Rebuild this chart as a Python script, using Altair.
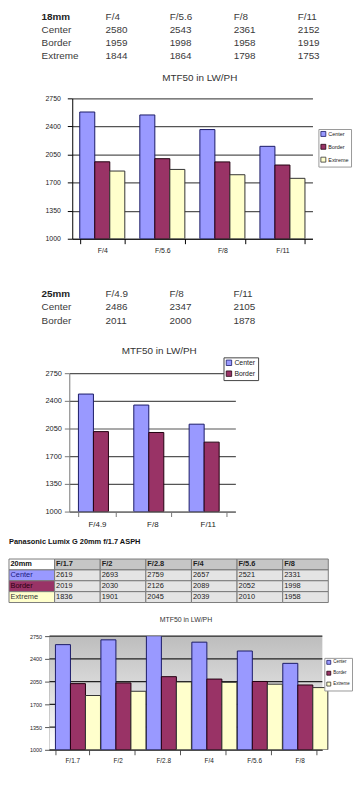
import altair as alt
import pandas as pd

FONT = "Arial"

# ---------------- data ----------------
series_names = ["Center", "Border", "Extreme"]
y_ticks = [1000, 1350, 1700, 2050, 2400, 2750]
chart_title = "MTF50 in LW/PH"

t1_label = "18mm"
t1_apertures = ["F/4", "F/5.6", "F/8", "F/11"]
t1_center = [2580, 2543, 2361, 2152]
t1_border = [1959, 1998, 1958, 1919]
t1_extreme = [1844, 1864, 1798, 1753]

t2_label = "25mm"
t2_apertures = ["F/4.9", "F/8", "F/11"]
t2_center = [2486, 2347, 2105]
t2_border = [2011, 2000, 1878]

t3_title = "Panasonic Lumix G 20mm f/1.7 ASPH"
t3_label = "20mm"
t3_apertures = ["F/1.7", "F/2", "F/2.8", "F/4", "F/5.6", "F/8"]
t3_center = [2619, 2693, 2759, 2657, 2521, 2331]
t3_border = [2019, 2030, 2126, 2089, 2052, 1998]
t3_extreme = [1836, 1901, 2045, 2039, 2010, 1958]

# ---------------- styles ----------------
FILL = {"Center": "#9999FF", "Border": "#993366", "Extreme": "#FFFFCC"}
EDGE = {"Center": "#1a1a66", "Border": "#220010", "Extreme": "#333333"}
W = 344  # width of every row of the layout


def long_df(aps, series):
    rows = []
    for name, vals in series:
        for a, v in zip(aps, vals):
            rows.append({"aperture": a, "series": name, "value": v})
    return pd.DataFrame(rows)


def table_df(label, aps, series):
    grid = [[label] + list(aps)] + [[n] + [str(v) for v in vals] for n, vals in series]
    recs = []
    for r, row in enumerate(grid):
        for c, txt in enumerate(row):
            recs.append({"r": r, "c": c, "text": txt, "bold": (r == 0 and c == 0)})
    return pd.DataFrame(recs), len(grid), len(grid[0])


def spacer(h):
    return alt.Chart(pd.DataFrame({"s": [0]})).mark_point(opacity=0, size=1).properties(width=W, height=h)


def text_table(label, aps, series, x0, x1, h):
    df, nr, nc = table_df(label, aps, series)
    base = alt.Chart(df).encode(
        x=alt.X("c:O", axis=None,
                scale=alt.Scale(type="point", padding=0, domain=list(range(nc)), range=[x0, x1])),
        y=alt.Y("r:O", axis=None, scale=alt.Scale(type="point", padding=0, domain=list(range(nr)))),
        text="text:N",
    )
    normal = base.transform_filter("!datum.bold").mark_text(
        align="left", baseline="middle", font=FONT, fontSize=10, color="#3a3a3a")
    bold = base.transform_filter("datum.bold").mark_text(
        align="left", baseline="middle", font=FONT, fontSize=10, fontWeight="bold", color="#222")
    return alt.layer(normal, bold).properties(width=W, height=h)


def bar_chart(df, aps, names, x0, x1, h, pi, po, yfs, ypad, xfs, xpad, tfs, tcenter, toff, tdy,
              lx, ly, lfs, lsym, lrow, lstroke, grid_color, domain_color, gradient=None):
    use_axis_grid = gradient is None
    yscale = alt.Scale(domain=[1000, 2750], nice=False, zero=False)
    yaxis = alt.Axis(title=None, values=y_ticks, format="d", tickSize=5, offset=-x0,
                     tickColor=domain_color, domainColor=domain_color,
                     labelFont=FONT, labelFontSize=yfs, labelColor="#222",
                     labelPadding=ypad, labelOverlap=False,
                     grid=use_axis_grid, gridColor=grid_color, gridWidth=1.2)
    bars = alt.Chart(df).mark_bar(clip=True, strokeWidth=1).encode(
        x=alt.X("aperture:N", sort=aps,
                scale=alt.Scale(paddingInner=pi, paddingOuter=po, range=[x0, x1]),
                axis=alt.Axis(title=None, labelAngle=0, tickBand="extent", tickSize=5,
                              tickColor=domain_color, domainColor=domain_color,
                              labelFont=FONT, labelFontSize=xfs, labelColor="#222",
                              labelPadding=xpad, grid=False)),
        xOffset=alt.XOffset("series:N", sort=names),
        y=alt.Y("value:Q", scale=yscale, axis=yaxis),
        y2=alt.datum(1000),
        color=alt.Color("series:N", sort=names,
                        scale=alt.Scale(domain=names, range=[FILL[n] for n in names]),
                        legend=alt.Legend(title=None, orient="none", legendX=lx, legendY=ly,
                                          direction="vertical", symbolType="square",
                                          symbolSize=lsym, symbolStrokeColor="#222",
                                          symbolStrokeWidth=0.8, symbolOpacity=1,
                                          labelFont=FONT, labelFontSize=lfs,
                                          labelColor="#222", labelOffset=2,
                                          rowPadding=lrow, padding=2,
                                          strokeColor=lstroke, fillColor="#ffffff",
                                          cornerRadius=0)),
        stroke=alt.Stroke("series:N", scale=alt.Scale(domain=names, range=[EDGE[n] for n in names]),
                          legend=None),
    )
    title = alt.TitleParams(chart_title, font=FONT, fontSize=tfs, fontWeight="normal",
                            color="#333", anchor="middle", frame="group", dx=tcenter - W / 2,
                            dy=tdy, offset=toff, baseline="bottom")
    if gradient is None:
        return bars.properties(width=W, height=h, title=title)
    bg = alt.Chart(pd.DataFrame({"s": [0]})).mark_rect(fill=gradient).encode(
        x=alt.value(x0), x2=alt.value(x1),
        y=alt.Y(datum=2750, type="quantitative", scale=yscale, axis=yaxis), y2=alt.datum(1000))
    rules = alt.Chart(pd.DataFrame({"t": y_ticks})).mark_rule(
        color=grid_color, strokeWidth=1.2).encode(
        y=alt.Y("t:Q", scale=yscale, axis=yaxis), x=alt.value(x0), x2=alt.value(x1))
    return alt.layer(bg, rules, bars).properties(width=W, height=h, title=title)


# ---------------- section 1 ----------------
s1 = [("Center", t1_center), ("Border", t1_border), ("Extreme", t1_extreme)]
table1 = text_table(t1_label, t1_apertures, s1, 33, 292, 39)
chart1 = bar_chart(long_df(t1_apertures, s1), t1_apertures, series_names, 64, 307, 142,
                   0.25, 0.125, 7, 7, 7, 3, 10, 193, 17, 15,
                   313, 31, 5.5, 25, 3, "#999", "#555", "#000")

# ---------------- section 2 ----------------
s2 = [("Center", t2_center), ("Border", t2_border)]
table2 = text_table(t2_label, t2_apertures, s2, 33, 227, 27)
chart2 = bar_chart(long_df(t2_apertures, s2), t2_apertures, series_names[:2], 61, 229, 140,
                   0.33, 0.165, 7.5, 3, 8, 4, 10, 152, 15.5, 25,
                   217, -16, 7, 30, 2, "#444", "#555", "#777")

# ---------------- section 3 ----------------
s3 = [("Center", t3_center), ("Border", t3_border), ("Extreme", t3_extreme)]
df3, nr3, nc3 = table_df(t3_label, t3_apertures, s3)
df3["kind"] = [
    ("corner" if (r == 0 and c == 0) else "hdr" if r == 0 else
     df3.loc[i, "text"] if c == 0 else "cell")
    for i, (r, c) in enumerate(zip(df3["r"], df3["c"]))
]
df3["hb"] = df3["r"] == 0
kinds = ["corner", "hdr", "Center", "Border", "Extreme", "cell"]
cell_fill = ["#ffffff", "#c6c6c6", FILL["Center"], FILL["Border"], FILL["Extreme"], "#e4e4e4"]
text_col = ["#111111", "#222222", "#1a1a80", "#2a0010", "#333333", "#222222"]

xs3 = alt.Scale(paddingInner=0, paddingOuter=0, domain=list(range(nc3)), range=[0, 323])
ys3 = alt.Scale(paddingInner=0, paddingOuter=0, domain=list(range(nr3)))
cells = alt.Chart(df3).mark_rect(stroke="#7a7a7a", strokeWidth=1).encode(
    x=alt.X("c:O", axis=None, scale=xs3),
    y=alt.Y("r:O", axis=None, scale=ys3),
    fill=alt.Fill("kind:N", scale=alt.Scale(domain=kinds, range=cell_fill), legend=None),
)
tbase = alt.Chart(df3).encode(
    x=alt.X("c:O", axis=None, scale=xs3, bandPosition=0),
    y=alt.Y("r:O", axis=None, scale=ys3),
    text="text:N",
    color=alt.Color("kind:N", scale=alt.Scale(domain=kinds, range=text_col), legend=None),
)
t3_norm = tbase.transform_filter("!datum.hb").mark_text(
    align="left", baseline="middle", dx=1.5, font=FONT, fontSize=7.5)
t3_bold = tbase.transform_filter("datum.hb").mark_text(
    align="left", baseline="middle", dx=1.5, font=FONT, fontSize=7.5, fontWeight="bold")
table3 = alt.layer(cells, t3_norm, t3_bold).properties(
    width=W, height=44,
    title=alt.TitleParams(t3_title, font=FONT, fontSize=7.5, fontWeight="bold", color="#111",
                          anchor="start", frame="group", offset=11, dy=6, baseline="bottom"),
)

grad = alt.LinearGradient(
    gradient="linear", x1=0, y1=0, x2=0, y2=1,
    stops=[alt.GradientStop(color="#bdbdbd", offset=0), alt.GradientStop(color="#ffffff", offset=1)],
)
chart3 = bar_chart(long_df(t3_apertures, s3), t3_apertures, series_names, 41, 317, 115,
                   0.26, 0.13, 5.5, 3, 6.5, 3, 7, 179, 13, 9,
                   319, 22, 4.5, 16, 2, "#999", "#222", "#555", gradient=grad)

# ---------------- layout ----------------
chart = alt.vconcat(
    table1, spacer(43),
    chart1, spacer(56),
    table2, spacer(53),
    chart2, spacer(48),
    table3, spacer(34),
    chart3,
    spacing=0, bounds="flush",
).resolve_scale(
    color="independent", fill="independent", stroke="independent"
).resolve_legend(
    color="independent", fill="independent", stroke="independent"
).properties(padding=0, background="#ffffff").configure_view(stroke=None)

chart.save("out.html", embed_options={"renderer": "svg", "actions": False})
